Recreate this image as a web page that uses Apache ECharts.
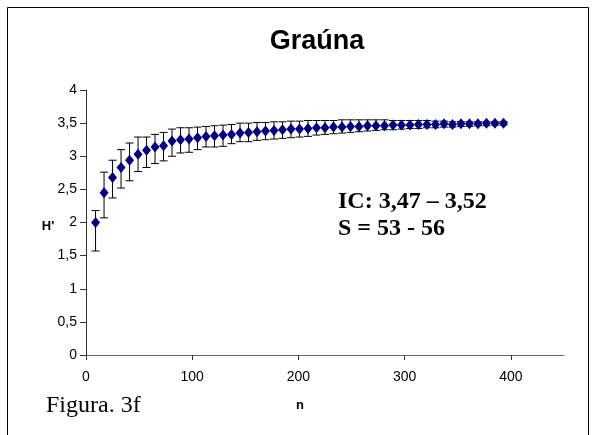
<!DOCTYPE html>
<html><head><meta charset="utf-8">
<script src="https://cdn.jsdelivr.net/npm/echarts@6/dist/echarts.min.js"></script>
<style>html,body{margin:0;padding:0;background:#fff}#c{width:596px;height:435px}</style>
</head><body><div id="c"></div>
<script>
const chartTitle = 'Graúna';
const xName = 'n';
const yName = "H'";
const noteLines = ['IC: 3,47 – 3,52', 'S = 53 - 56'];
const figureLabel = 'Figura. 3f';

const nValues = [9,17,25,33,41,49,57,65,73,81,89,97,105,113,121,129,137,145,153,161,169,177,185,193,201,209,217,225,233,241,249,257,265,273,281,289,297,305,313,321,329,337,345,353,361,369,377,385,393];
const hMean  = [2.00,2.45,2.68,2.83,2.94,3.03,3.09,3.14,3.16,3.23,3.25,3.26,3.28,3.30,3.31,3.32,3.33,3.35,3.36,3.37,3.38,3.39,3.40,3.41,3.41,3.42,3.43,3.43,3.44,3.44,3.45,3.45,3.46,3.46,3.46,3.47,3.47,3.47,3.48,3.48,3.48,3.49,3.48,3.49,3.49,3.49,3.50,3.50,3.50];
const hUpper = [2.18,2.76,2.94,3.10,3.20,3.29,3.29,3.33,3.36,3.41,3.43,3.43,3.44,3.45,3.46,3.47,3.48,3.50,3.50,3.51,3.51,3.52,3.52,3.53,3.53,3.54,3.54,3.54,3.54,3.55,3.55,3.55,3.55,3.55,3.55,3.54,3.54,3.54,3.54,3.54,3.53,3.53,3.52,3.52,3.52,3.52,3.52,3.52,3.52];
const hLower = [1.57,2.07,2.37,2.52,2.63,2.77,2.83,2.89,2.93,3.00,3.05,3.06,3.10,3.14,3.14,3.15,3.19,3.22,3.22,3.24,3.25,3.26,3.27,3.28,3.29,3.30,3.32,3.33,3.34,3.35,3.36,3.37,3.38,3.39,3.40,3.40,3.41,3.42,3.42,3.43,3.43,3.44,3.44,3.45,3.45,3.46,3.46,3.47,3.47];

const meanData = nValues.map((n, i) => [n, hMean[i]]);
const errData = nValues.map((n, i) => [n, hLower[i], hUpper[i]]);

const chart = echarts.init(document.getElementById('c'));
chart.setOption({
  backgroundColor: '#fff',
  animation: false,
  grid: { left: 86, right: 32, top: 90, bottom: 80 },
  xAxis: {
    type: 'value', min: 0, max: 450, interval: 100,
    axisLine: { show: true, onZero: false, lineStyle: { color: '#666', width: 1 } },
    axisTick: { show: true, length: 5, lineStyle: { color: '#333' } },
    splitLine: { show: false },
    axisLabel: { color: '#000', fontFamily: 'Liberation Sans, Arial', fontSize: 14, margin: 15,
      showMaxLabel: false }
  },
  yAxis: {
    type: 'value', min: 0, max: 4, interval: 0.5,
    axisLine: { show: true, lineStyle: { color: '#333', width: 1 } },
    axisTick: { show: true, length: 6, lineStyle: { color: '#333' } },
    splitLine: { show: false },
    axisLabel: { color: '#000', fontFamily: 'Liberation Sans, Arial', fontSize: 14, margin: 9,
      formatter: v => String(v).replace('.', ',') }
  },
  graphic: [
    { type: 'rect', shape: { x: 7.5, y: 7.5, width: 581, height: 440 },
      style: { fill: 'none', stroke: '#000', lineWidth: 1 }, silent: true },
    { type: 'text', style: { x: 317, y: 42, text: chartTitle, textAlign: 'center', textVerticalAlign: 'middle',
      font: 'bold 27px "Liberation Sans", Arial', fill: '#000' } },
    { type: 'text', style: { x: 338, y: 202, text: noteLines[0], textAlign: 'left', textVerticalAlign: 'middle',
      font: 'bold 24px "Liberation Serif", "Times New Roman"', fill: '#000' } },
    { type: 'text', style: { x: 338, y: 229, text: noteLines[1], textAlign: 'left', textVerticalAlign: 'middle',
      font: 'bold 24px "Liberation Serif", "Times New Roman"', fill: '#000' } },
    { type: 'text', style: { x: 46, y: 406, text: figureLabel, textAlign: 'left', textVerticalAlign: 'middle',
      font: '24px "Liberation Serif", "Times New Roman"', fill: '#000' } },
    { type: 'text', style: { x: 300, y: 405, text: xName, textAlign: 'center', textVerticalAlign: 'middle',
      font: 'bold 13px "Liberation Sans", Arial', fill: '#000' } },
    { type: 'text', style: { x: 48, y: 226, text: yName, textAlign: 'center', textVerticalAlign: 'middle',
      font: 'bold 13px "Liberation Sans", Arial', fill: '#000' } }
  ],
  series: [
    {
      type: 'custom',
      data: errData,
      encode: { x: 0, y: [1, 2] },
      z: 2,
      renderItem: function (params, api) {
        const x = api.value(0);
        const lo = api.coord([x, api.value(1)]);
        const hi = api.coord([x, api.value(2)]);
        const hw = 4;
        const st = { stroke: '#000', lineWidth: 1 };
        return {
          type: 'group',
          children: [
            { type: 'line', shape: { x1: lo[0], y1: lo[1], x2: hi[0], y2: hi[1] }, style: st },
            { type: 'line', shape: { x1: lo[0] - hw, y1: lo[1], x2: lo[0] + hw, y2: lo[1] }, style: st },
            { type: 'line', shape: { x1: hi[0] - hw, y1: hi[1], x2: hi[0] + hw, y2: hi[1] }, style: st }
          ]
        };
      }
    },
    {
      type: 'scatter',
      data: meanData,
      symbol: 'diamond',
      symbolSize: [9, 11],
      itemStyle: { color: '#000080', opacity: 1 },
      z: 3
    }
  ]
});
</script>
</body></html>
